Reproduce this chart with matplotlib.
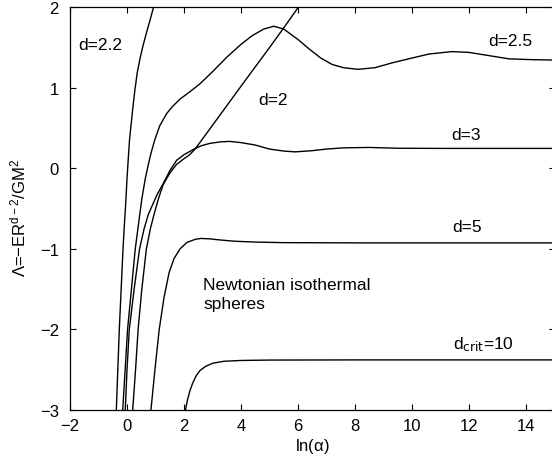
import matplotlib
matplotlib.use("Agg")
import matplotlib.pyplot as plt

plt.rcParams['font.family'] = ['Liberation Sans', 'DejaVu Sans']
plt.rcParams['mathtext.default'] = 'regular'
plt.rcParams['axes.unicode_minus'] = True

# Caloric curves Lambda(ln alpha) for several dimensions d
ln_a_d22 = [-0.375, -0.27, -0.14, -0.10, -0.04, 0.0, 0.05, 0.09, 0.16, 0.22, 0.28, 0.36, 0.46, 0.56, 0.68, 0.80, 0.93]
lam_d22 = [-3.0, -2.0, -1.0, -0.75, -0.4, -0.13, 0.15, 0.36, 0.6, 0.8, 0.98, 1.19, 1.37, 1.52, 1.68, 1.83, 2.0]

ln_a_d25 = [-0.15, 0.02, 0.29, 0.40, 0.52, 0.64, 0.75, 0.85, 0.98, 1.15, 1.39, 1.6, 1.86, 2.2, 2.56, 3.0, 3.5,
            4.0, 4.4, 4.8, 5.15, 5.5, 6.0, 6.4, 6.8, 7.2, 7.6, 8.1, 8.7, 9.3, 10.0, 10.6, 11.4, 12.0, 12.7,
            13.4, 14.2, 15.0]
lam_d25 = [-3.0, -2.0, -1.0, -0.7, -0.38, -0.13, 0.05, 0.2, 0.36, 0.53, 0.68, 0.77, 0.86, 0.95, 1.05, 1.2, 1.38,
           1.54, 1.65, 1.73, 1.765, 1.73, 1.6, 1.48, 1.37, 1.29, 1.25, 1.23, 1.25, 1.31, 1.37, 1.42, 1.45, 1.44,
           1.40, 1.36, 1.35, 1.345]

ln_a_d2 = [0.2, 0.3, 0.39, 0.52, 0.68, 0.82, 0.95, 1.1, 1.27, 1.5, 1.74, 2.0, 2.2, 2.4, 2.68, 3.3, 4.0, 5.0,
           5.49, 6.01, 6.1]
lam_d2 = [-3.0, -2.5, -2.0, -1.5, -1.0, -0.75, -0.57, -0.38, -0.2, -0.06, 0.05, 0.12, 0.17, 0.245, 0.38, 0.68,
          1.02, 1.5, 1.74, 2.0, 2.04]

ln_a_d3 = [-0.06, 0.0, 0.08, 0.25, 0.44, 0.6, 0.75, 0.9, 1.05, 1.27, 1.5, 1.74, 2.0, 2.33, 2.6, 2.9, 3.3, 3.6,
           4.0, 4.5, 5.0, 5.5, 5.9, 6.5, 7.0, 7.6, 8.5, 9.5, 11.0, 15.0]
lam_d3 = [-3.0, -2.5, -2.0, -1.5, -1.0, -0.75, -0.57, -0.45, -0.33, -0.19, -0.03, 0.1, 0.17, 0.235, 0.28, 0.31,
          0.33, 0.335, 0.32, 0.29, 0.24, 0.215, 0.205, 0.22, 0.24, 0.255, 0.26, 0.25, 0.248, 0.248]

ln_a_d5 = [0.84, 0.98, 1.13, 1.3, 1.48, 1.65, 1.86, 2.1, 2.4, 2.6, 2.9, 3.3, 3.8, 4.5, 5.5, 8.0, 15.0]
lam_d5 = [-3.0, -2.5, -2.0, -1.6, -1.29, -1.12, -1.0, -0.92, -0.88, -0.87, -0.875, -0.89, -0.905, -0.915,
          -0.922, -0.925, -0.925]

ln_a_d10 = [2.05, 2.12, 2.2, 2.3, 2.42, 2.56, 2.75, 3.0, 3.4, 4.0, 5.0, 8.0, 15.0]
lam_d10 = [-3.0, -2.88, -2.77, -2.67, -2.58, -2.51, -2.46, -2.42, -2.395, -2.385, -2.38, -2.378, -2.378]

x_ticks = [-2, 0, 2, 4, 6, 8, 10, 12, 14]
y_ticks = [-3, -2, -1, 0, 1, 2]

fig = plt.figure(figsize=(5.52, 4.64), dpi=100)
ax = fig.add_axes([70 / 552, 53 / 464, 484.5 / 552, 402.7 / 464])

curves = [(ln_a_d22, lam_d22), (ln_a_d25, lam_d25), (ln_a_d2, lam_d2),
          (ln_a_d3, lam_d3), (ln_a_d5, lam_d5), (ln_a_d10, lam_d10)]
for xs, ys in curves:
    ax.plot(xs, ys, color='black', lw=1.0, clip_on=True)

ax.set_xlim(-2, 15)
ax.set_ylim(-3, 2)
ax.set_xticks(x_ticks)
ax.set_yticks(y_ticks)
ax.tick_params(direction='in', length=4, width=0.8, top=True, right=True, labelsize=12)
ax.tick_params(axis='y', pad=8)
ax.tick_params(axis='x', pad=6)
for sp in ax.spines.values():
    sp.set_linewidth(0.9)

ax.set_xlabel(r'ln($\alpha$)', fontsize=12, labelpad=2)
ax.set_ylabel(r'$\Lambda$=−ER$^{d−2}$/GM$^{2}$', fontsize=12)
ax.yaxis.set_label_coords(-0.085, 0.48)

fs = 12.5
ax.text(-1.72, 1.54, 'd=2.2', fontsize=fs, va='center', ha='left')
ax.text(4.61, 0.86, 'd=2', fontsize=fs, va='center', ha='left')
ax.text(12.66, 1.59, 'd=2.5', fontsize=fs, va='center', ha='left')
ax.text(11.39, 0.42, 'd=3', fontsize=fs, va='center', ha='left')
ax.text(11.4, -0.72, 'd=5', fontsize=fs, va='center', ha='left')
ax.text(11.43, -2.18, r'd$_{\mathrm{crit}}$=10', fontsize=fs, va='center', ha='left')
ax.text(2.67, -1.56, 'Newtonian isothermal\nspheres', fontsize=fs, va='center', ha='left',
        linespacing=1.35)

fig.savefig('out.png', dpi=100)
